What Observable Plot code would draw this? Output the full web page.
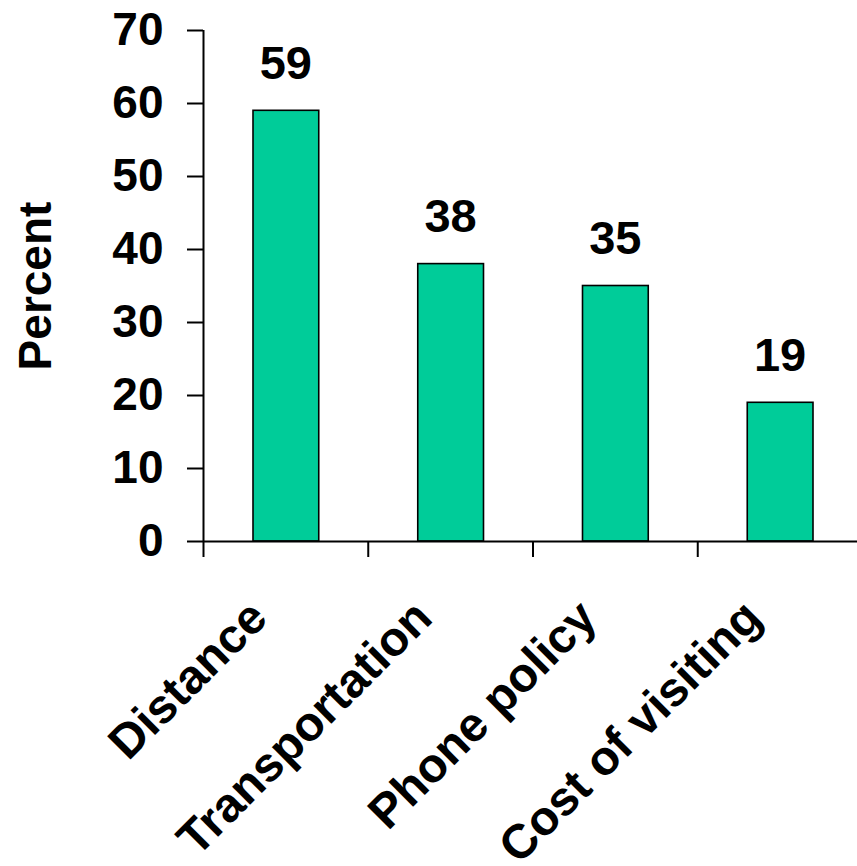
<!DOCTYPE html>
<html><head><meta charset="utf-8">
<script src="https://cdn.jsdelivr.net/npm/d3@7"></script>
<script src="https://cdn.jsdelivr.net/npm/@observablehq/plot@0.6"></script>
<style>html,body{margin:0;padding:0;background:#fff;overflow:hidden}</style>
</head><body><div id="chart"></div>
<script>
const categories = ["Distance", "Transportation", "Phone policy", "Cost of visiting"];
const values = [59, 38, 35, 19];
const yTicks = [0, 10, 20, 30, 40, 50, 60, 70];
const yLabel = "Percent";

const data = categories.map((c, i) => ({category: c, index: i, value: values[i]}));
const font = "'Liberation Sans', Arial, Helvetica, sans-serif";

const chart = Plot.plot({
  width: 857, height: 866,
  marginTop: 30, marginBottom: 325, marginLeft: 203, marginRight: 0,
  style: {fontFamily: font, fontWeight: "bold", fontSize: "46px", color: "#000", background: "#fff"},
  x: {type: "linear", domain: [0, categories.length], range: [203, 862]},
  y: {domain: [0, 70]},
  marks: [
    Plot.rectY(data, {x1: "index", x2: d => d.index + 1, y: "value", insetLeft: 50, insetRight: 49,
      fill: "#00CC99", stroke: "#000", strokeWidth: 1.6}),
    Plot.ruleY([0], {stroke: "#000", strokeWidth: 2}),
    Plot.ruleX([0], {y1: 0, y2: 70, stroke: "#000", strokeWidth: 2}),
    Plot.axisY({ticks: yTicks, tickSize: 16, tickPadding: 24, strokeWidth: 2, tickFormat: d => String(d),
      label: yLabel, labelAnchor: "center", labelOffset: 185, labelArrow: "none"}),
    Plot.axisX({ticks: d3.range(categories.length + 1), tickSize: 16, strokeWidth: 2, tickFormat: () => "", label: null}),
    Plot.axisX({ticks: categories.map((c, i) => i + 0.5), tickFormat: t => categories[Math.floor(t)],
      tickSize: 0, tickRotate: -45, tickPadding: 68, dx: -27, fontSize: 48, label: null}),
    Plot.text(data, {x: d => d.index + 0.5, y: "value", text: d => String(d.value), lineAnchor: "bottom", dy: -32, fontSize: 47})
  ]
});
document.getElementById("chart").appendChild(chart);
</script>
</body></html>
